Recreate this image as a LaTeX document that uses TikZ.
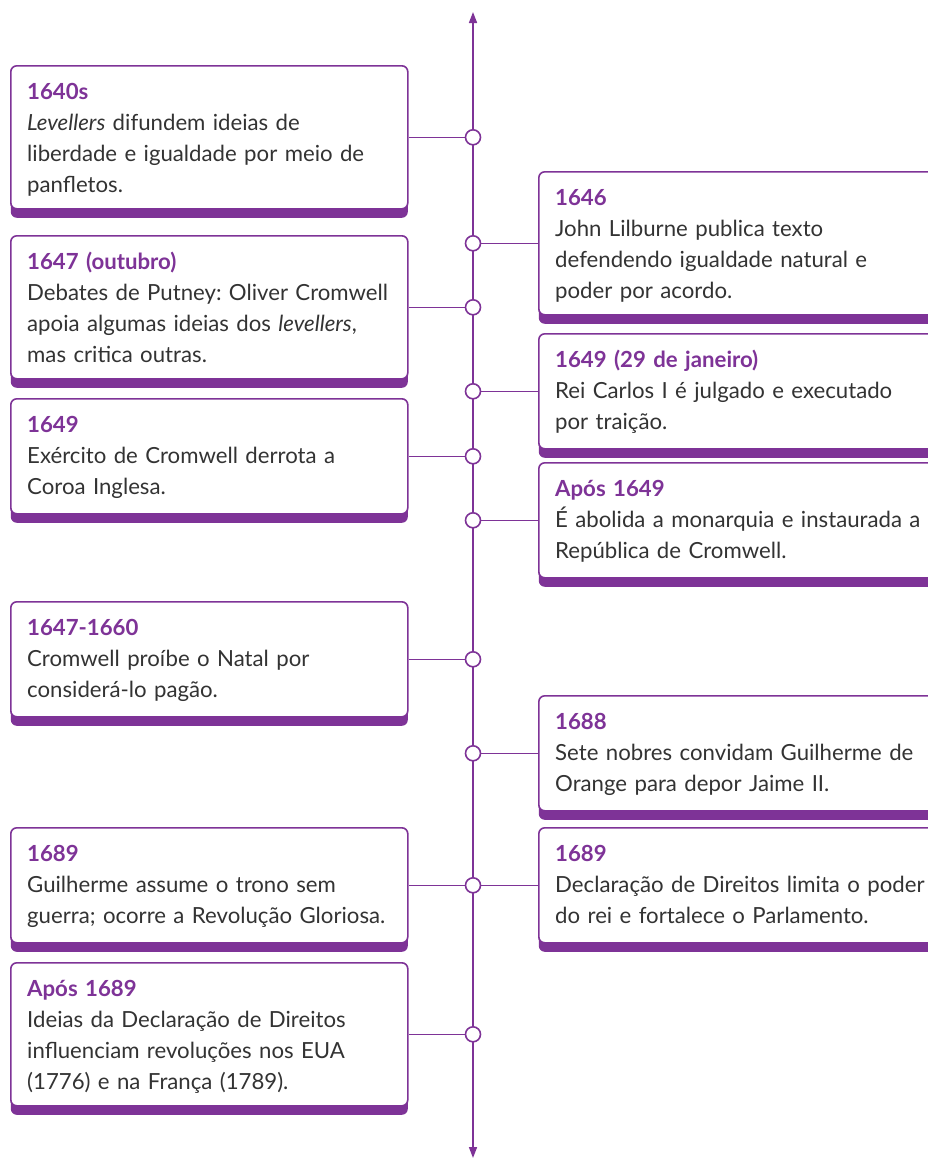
\documentclass[tikz,border=0pt]{standalone}
\usepackage{fontspec}
\setmainfont{Lato}
\usetikzlibrary{arrows.meta,shadows}
\definecolor{tlpurple}{HTML}{7E3397}
\definecolor{tltext}{HTML}{333333}
\frenchspacing
\begin{document}
\begin{tikzpicture}[x=1pt,y=1pt,
  card/.style={draw=tlpurple, line width=1.6pt, fill=white, rounded corners=6pt,
    anchor=north west, minimum height=#1, inner sep=0pt,
    general shadow={fill=tlpurple, shadow yshift=-9pt, shadow xshift=0pt, opacity=1}},
  lcard/.style={card=#1, minimum width=397pt},
  rcard/.style={card=#1, minimum width=402pt},
  cardtext/.style={anchor=base west, inner sep=0pt, text width=385pt, align=left,
    text=tltext, font=\fontsize{22.2}{31}\selectfont},
  dot/.style={circle, draw=tlpurple, fill=white, line width=1.6pt, minimum size=15pt, inner sep=0pt},
  conn/.style={draw=tlpurple, line width=1.6pt},
  axisline/.style={draw=tlpurple, line width=1.6pt, {Triangle[length=11pt,width=8pt]}-{Triangle[length=11pt,width=8pt]}}
]
\useasboundingbox (0,0) rectangle (928,-1160);
\newcommand{\yrt}[1]{\textcolor{tlpurple}{\textbf{#1}}}
\coordinate (ax) at (473,0);
\coordinate (axtop) at (473,-12);
\coordinate (axbot) at (473,-1158);
\draw[axisline] (axbot) -- (axtop);

% left cards
\node[lcard=143pt] (b1) at (10,-65) {};
\node[cardtext] (b1t) at ([xshift=17pt,yshift=-34pt]b1.north west) {\yrt{1640s}\\\textit{Levellers} difundem ideias de\\liberdade e igualdade por meio de\\panfletos.};
\node[lcard=143pt] (b2) at (10,-235) {};
\node[cardtext] (b2t) at ([xshift=17pt,yshift=-34pt]b2.north west) {\yrt{1647 (outubro)}\\Debates de Putney: Oliver Cromwell\\apoia algumas ideias dos \textit{levellers},\\mas critica outras.};
\node[lcard=115pt] (b3) at (10,-398) {};
\node[cardtext] (b3t) at ([xshift=17pt,yshift=-34pt]b3.north west) {\yrt{1649}\\Exército de Cromwell derrota a\\Coroa Inglesa.};
\node[lcard=115pt] (b4) at (10,-601) {};
\node[cardtext] (b4t) at ([xshift=17pt,yshift=-34pt]b4.north west) {\yrt{1647-1660}\\Cromwell proíbe o Natal por\\considerá-lo pagão.};
\node[lcard=115pt] (b5) at (10,-827) {};
\node[cardtext] (b5t) at ([xshift=17pt,yshift=-34pt]b5.north west) {\yrt{1689}\\Guilherme assume o trono sem\\guerra; ocorre a Revolução Gloriosa.};
\node[lcard=143pt] (b6) at (10,-962) {};
\node[cardtext] (b6t) at ([xshift=17pt,yshift=-34pt]b6.north west) {\yrt{Após 1689}\\Ideias da Declaração de Direitos\\influenciam revoluções nos EUA\\(1776) e na França (1789).};

% right cards
\node[rcard=143pt] (r1) at (538,-171) {};
\node[cardtext] (r1t) at ([xshift=17pt,yshift=-34pt]r1.north west) {\yrt{1646}\\John Lilburne publica texto\\defendendo igualdade natural e\\poder por acordo.};
\node[rcard=115pt] (r2) at (538,-333) {};
\node[cardtext] (r2t) at ([xshift=17pt,yshift=-34pt]r2.north west) {\yrt{1649 (29 de janeiro)}\\Rei Carlos I é julgado e executado\\por traição.};
\node[rcard=115pt] (r3) at (538,-462) {};
\node[cardtext] (r3t) at ([xshift=17pt,yshift=-34pt]r3.north west) {\yrt{Após 1649}\\É abolida a monarquia e instaurada a\\República de Cromwell.};
\node[rcard=115pt] (r4) at (538,-695) {};
\node[cardtext] (r4t) at ([xshift=17pt,yshift=-34pt]r4.north west) {\yrt{1688}\\Sete nobres convidam Guilherme de\\Orange para depor Jaime II.};
\node[rcard=115pt] (r5) at (538,-827) {};
\node[cardtext] (r5t) at ([xshift=17pt,yshift=-34pt]r5.north west) {\yrt{1689}\\Declaração de Direitos limita o poder\\do rei e fortalece o Parlamento.};

% dots
\node[dot] (d1) at (b1.east -| ax) {};
\node[dot] (d2) at (r1.west -| ax) {};
\node[dot] (d3) at (b2.east -| ax) {};
\node[dot] (d4) at (r2.west -| ax) {};
\node[dot] (d5) at (b3.east -| ax) {};
\node[dot] (d6) at (r3.west -| ax) {};
\node[dot] (d7) at (b4.east -| ax) {};
\node[dot] (d8) at (r4.west -| ax) {};
\node[dot] (d9) at (b5.east -| ax) {};
\node[dot] (d10) at (b6.east -| ax) {};

\draw[conn] (b1.east) -- (d1);
\draw[conn] (r1.west) -- (d2);
\draw[conn] (b2.east) -- (d3);
\draw[conn] (r2.west) -- (d4);
\draw[conn] (b3.east) -- (d5);
\draw[conn] (r3.west) -- (d6);
\draw[conn] (b4.east) -- (d7);
\draw[conn] (r4.west) -- (d8);
\draw[conn] (b5.east) -- (d9);
\draw[conn] (r5.west) -- (d9);
\draw[conn] (b6.east) -- (d10);
\end{tikzpicture}
\end{document}
